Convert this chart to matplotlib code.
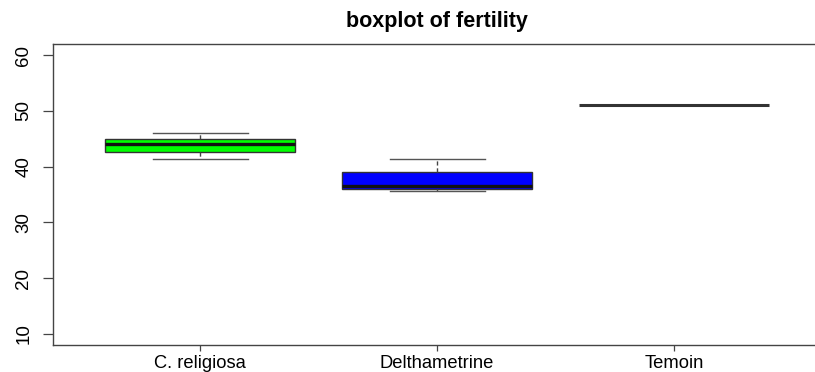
import matplotlib
matplotlib.use("Agg")
import matplotlib.pyplot as plt

plt.rcParams['font.family'] = ['Liberation Sans', 'DejaVu Sans']

# Fertility summary per treatment
groups = ["C. religiosa", "Delthametrine", "Temoin"]
whislo = [41.4, 35.7, 51.0]
q1 = [42.7, 36.0, 51.0]
med = [44.0, 36.5, 51.0]
q3 = [45.0, 39.0, 51.0]
whishi = [46.0, 41.4, 51.0]
box_colors = ["#00FF00", "#0000FF", "#FFFFFF"]

yticks = [10, 20, 30, 40, 50, 60]

stats = []
for g, lo, a, m, b, hi in zip(groups, whislo, q1, med, q3, whishi):
    stats.append(dict(label=g, whislo=lo, q1=a, med=m, q3=b, whishi=hi, fliers=[]))

fig = plt.figure(figsize=(8.15, 3.72), dpi=100)
ax = fig.add_axes([53.3 / 815, 27 / 372, (821 - 53.3) / 815, (345 - 44) / 372])

bp = ax.bxp(stats, positions=[1, 2, 3], widths=0.8, patch_artist=True,
            showfliers=False,
            boxprops=dict(edgecolor="#333333", linewidth=1.0),
            medianprops=dict(color="#111111", linewidth=2.4, solid_capstyle="butt"),
            whiskerprops=dict(color="#444444", linewidth=1.0, linestyle=(0, (3, 2))),
            capprops=dict(color="#555555", linewidth=1.0),
            capwidths=0.4)
for patch, c in zip(bp["boxes"], box_colors):
    patch.set_facecolor(c)
# the control group has a single value: only its median line is visible
bp["boxes"][2].set_visible(False)
bp["medians"][2].set_color("#333333")
bp["medians"][2].set_linewidth(2.2)
for k in (4, 5):
    bp["whiskers"][k].set_visible(False)
    bp["caps"][k].set_visible(False)

ax.set_xlim(0.38, 3.62)
ax.set_ylim(8, 62)
ax.set_yticks(yticks)
ax.set_yticklabels([str(t) for t in yticks], rotation=90, va="center", fontsize=13.5)
ax.set_xticks([1, 2, 3])
ax.set_xticklabels(groups, fontsize=13.2)
ax.tick_params(axis="y", length=7, width=0.9, color="#444444", pad=8)
ax.tick_params(axis="x", length=4.5, width=0.9, color="#444444", pad=2.5)
for s in ax.spines.values():
    s.set_color("#444444")
    s.set_linewidth(1.0)

fig.text(437 / 815, 1 - 22 / 372, "boxplot of fertility", ha="center", va="center",
         fontsize=15.5, fontweight="bold")

fig.savefig("out.png", dpi=100)
